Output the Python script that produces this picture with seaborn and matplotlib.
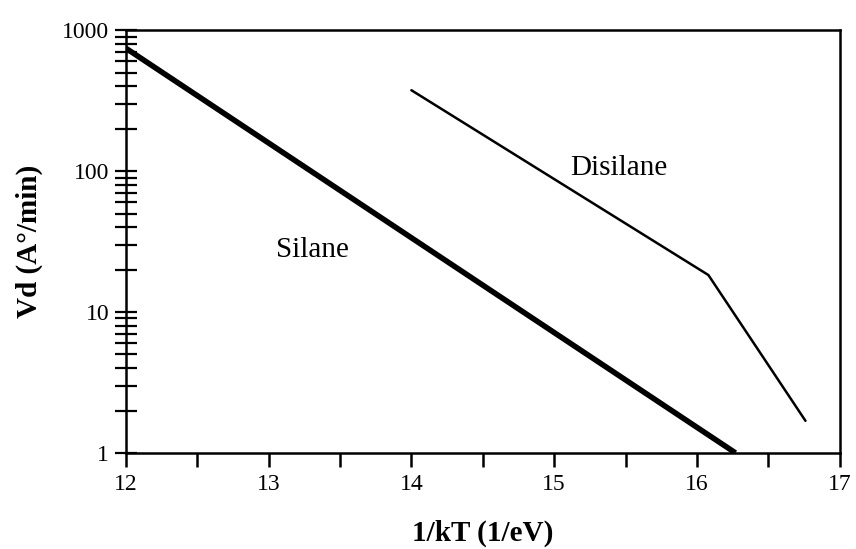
import numpy as np
import pandas as pd
import matplotlib
matplotlib.use("Agg")
import matplotlib.pyplot as plt
import seaborn as sns
from matplotlib.ticker import LogLocator, FixedLocator, NullFormatter

# valori
silane_x = [12.0, 16.27]
silane_y = [745, 1.0]
disilane_x = [14.0, 16.08, 16.76]
disilane_y = [375, 18.3, 1.69]

x_ticks = [12, 13, 14, 15, 16, 17]
y_ticks = [1, 10, 100, 1000]

sns.set_style("ticks")
plt.rcParams['font.family'] = ['Liberation Serif', 'DejaVu Serif']
plt.rcParams['text.color'] = 'black'
plt.rcParams['axes.labelcolor'] = 'black'
plt.rcParams['xtick.color'] = 'black'
plt.rcParams['ytick.color'] = 'black'

fig = plt.figure(figsize=(8.56, 5.49), dpi=100)
ax = fig.add_axes([0.147, 0.175, 0.834, 0.770])

silane = pd.DataFrame({"x": silane_x, "y": silane_y})
disilane = pd.DataFrame({"x": disilane_x, "y": disilane_y})

sns.lineplot(data=silane, x="x", y="y", ax=ax, color="black", linewidth=4.0,
             solid_capstyle="butt")
sns.lineplot(data=disilane, x="x", y="y", ax=ax, color="black", linewidth=1.8)

ax.set_yscale("log")
ax.set_xlim(12, 17)
ax.set_ylim(1, 1000)

ax.set_xticks(x_ticks)
ax.set_xticklabels([str(t) for t in x_ticks])
ax.xaxis.set_minor_locator(FixedLocator(np.arange(12.5, 17, 1.0)))
ax.set_yticks(y_ticks)
ax.set_yticklabels([str(t) for t in y_ticks])
ax.yaxis.set_minor_locator(LogLocator(base=10, subs=np.arange(2, 10)))
ax.yaxis.set_minor_formatter(NullFormatter())

ax.tick_params(axis="x", which="both", direction="out", length=10, width=1.8,
               labelsize=17, pad=5, color="black", labelcolor="black")
ax.tick_params(axis="y", which="both", direction="inout", length=16, width=1.6,
               labelsize=17, pad=4, color="black", labelcolor="black")

for s in ax.spines.values():
    s.set_linewidth(1.8)
    s.set_color("black")

ax.set_xlabel("1/kT (1/eV)", fontsize=21, fontweight="bold", labelpad=18)
ax.set_ylabel("Vd (A°/min)", fontsize=21, fontweight="bold", labelpad=14)

ax.text(13.31, 27.5, "Silane", fontsize=21, ha="center", va="center")
ax.text(15.45, 105, "Disilane", fontsize=21, ha="center", va="center")

fig.savefig("out.png", dpi=100)
